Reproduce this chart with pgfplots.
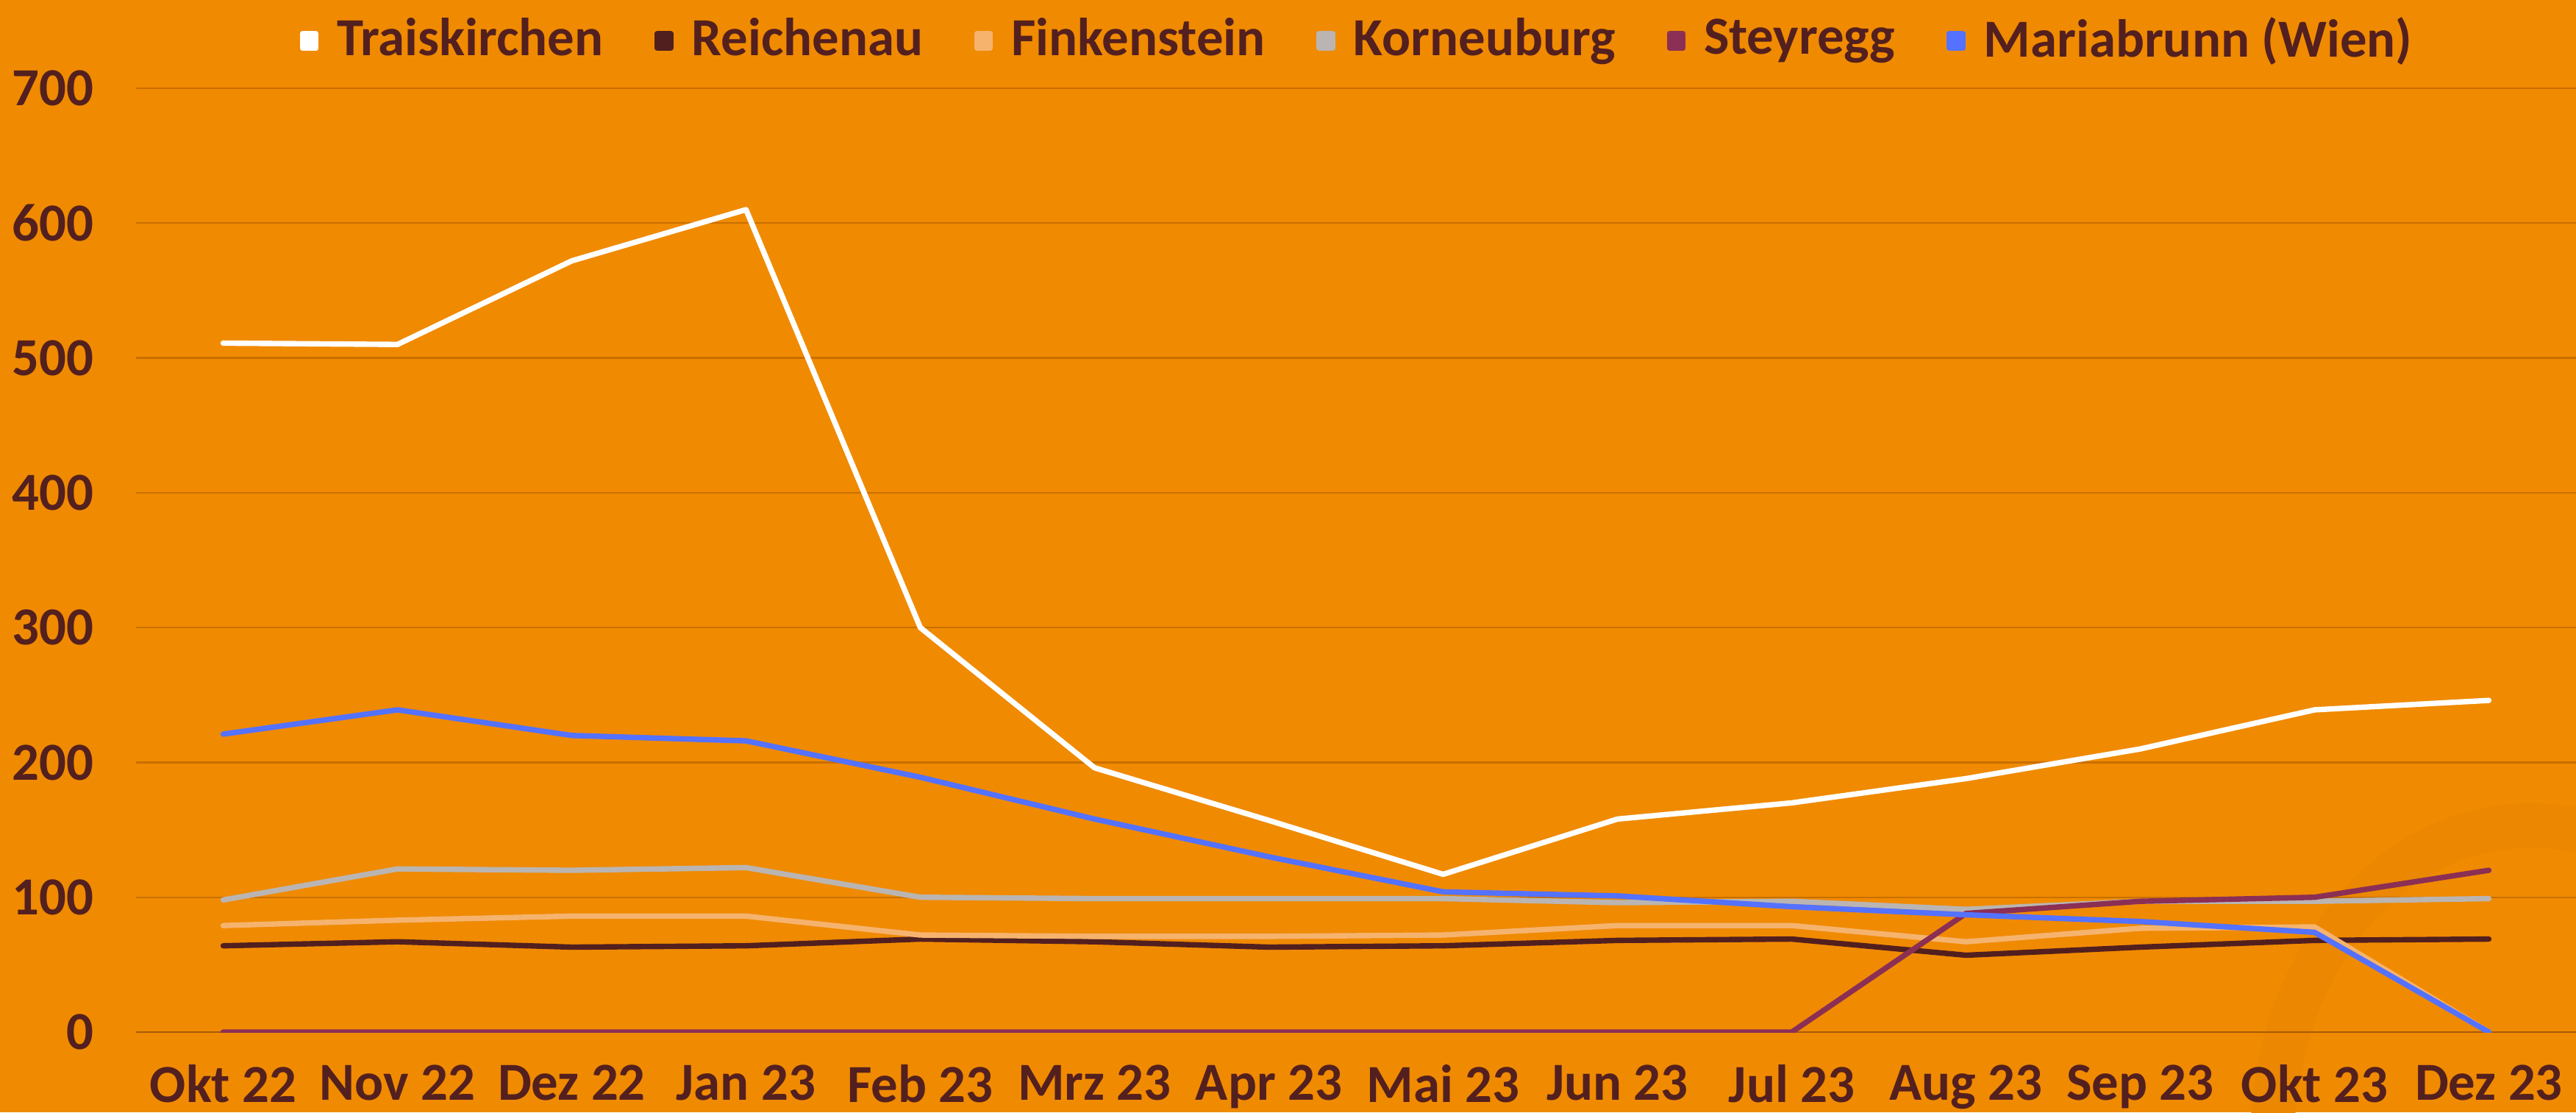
\documentclass[border=0pt]{standalone}
\usepackage{pgfplots}
\pgfplotsset{compat=1.18}
\usepackage{pgfplotstable}
\usepackage{fontspec}
\setmainfont{Carlito}
\definecolor{bg}{HTML}{F08A00}
\definecolor{txt}{HTML}{53201F}
\definecolor{gridc}{HTML}{C96F00}
\definecolor{zeroc}{HTML}{A95A08}
\definecolor{ring}{HTML}{EB8700}
\definecolor{cTrais}{HTML}{FFFFFF}
\definecolor{cReich}{HTML}{521F1F}
\definecolor{cFink}{HTML}{F5B36E}
\definecolor{cKorn}{HTML}{BAB5B2}
\definecolor{cStey}{HTML}{8B2F55}
\definecolor{cMaria}{HTML}{5472FF}
\pgfplotstableread{
x Trais Reich Fink Korn Stey Maria
0 511 64 79 98 0 221
1 510 67 83 121 0 239
2 572 63 86 120 0 220
3 610 64 86 122 0 216
4 300 69 72 100 0 189
5 196 67 71 99 0 158
6 157 63 71 99 0 130
7 117 64 72 99 0 104
8 158 68 79 96 0 101
9 170 69 79 97 0 93
10 188 57 67 91 88 87
11 210 63 77 97 97 82
12 239 68 78 97 100 74
13 246 69 0 99 120 0
}\data
\begin{document}
\begin{tikzpicture}
\useasboundingbox (0,0) rectangle (350.3mm,151.2mm);
\fill[bg] (0,0) rectangle (350.3mm,151.2mm);
\begin{scope}
\clip (0,0) rectangle (350.3mm,151.2mm);
\fill[ring, even odd rule] (344mm,-4mm) ellipse [x radius=38mm, y radius=46mm]
  (344mm,-4mm) ellipse [x radius=32mm, y radius=40mm];
\end{scope}
\begin{axis}[
  at={(18.5mm,10.9mm)}, anchor=south west,
  scale only axis,
  width=331.8mm, height=128.3mm,
  xmin=-0.5, xmax=13.5, ymin=0, ymax=700,
  axis line style={draw=none},
  tick style={draw=none},
  xtick={0,...,13},
  xticklabels={Okt 22,Nov 22,Dez 22,Jan 23,Feb 23,Mrz 23,Apr 23,Mai 23,Jun 23,Jul 23,Aug 23,Sep 23,Okt 23,Dez 23},
  ytick={0,100,...,700},
  ymajorgrids,
  grid style={color=gridc, line width=0.22mm},
  extra y ticks={0},
  extra y tick labels={},
  extra y tick style={grid style={color=zeroc, line width=0.28mm}},
  /pgf/number format/assume math mode=true,
  tick label style={font=\fontsize{20.7}{25}\selectfont\bfseries, text=txt},
  yticklabel style={inner sep=0pt, anchor=east, xshift=-5.7mm},
  xticklabel style={inner sep=0pt, anchor=north, yshift=-4.4mm},
  legend columns=-1,
  legend style={at={(0.5,1)}, anchor=south, yshift=3.7mm, draw=none, fill=none,
    inner sep=0pt, font=\fontsize{20.7}{25}\selectfont\bfseries, text=txt,
    nodes={inner sep=0pt},
    /tikz/every odd column/.append style={column sep=2.5mm},
    /tikz/every even column/.append style={column sep=7.0mm}},
  legend image code/.code={\fill[#1] (0mm,-1.3mm) rectangle (1.8mm,0.7mm);},
  every axis plot/.append style={line width=2.1pt, line join=round, line cap=round, mark=none},
]
\addplot[color=cTrais] table[x=x,y=Trais]{\data};
\addlegendentry{Traiskirchen}
\addplot[color=cReich] table[x=x,y=Reich]{\data};
\addlegendentry{Reichenau}
\addplot[color=cFink] table[x=x,y=Fink]{\data};
\addlegendentry{Finkenstein}
\addplot[color=cKorn] table[x=x,y=Korn]{\data};
\addlegendentry{Korneuburg}
\addplot[color=cStey] table[x=x,y=Stey]{\data};
\addlegendentry{Steyregg}
\addplot[color=cMaria] table[x=x,y=Maria]{\data};
\addlegendentry{Mariabrunn (Wien)}
\end{axis}
\end{tikzpicture}
\end{document}
